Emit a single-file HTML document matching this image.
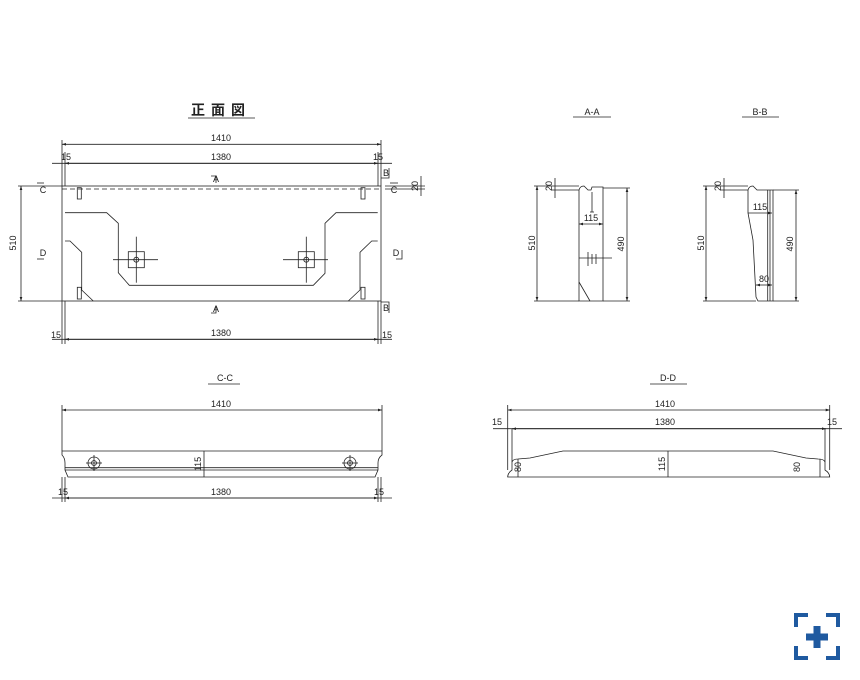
<!DOCTYPE html>
<html><head><meta charset="utf-8"><style>
html,body{margin:0;padding:0;background:#fff}
svg{display:block}
text{font-family:"Liberation Sans Narrow","Liberation Sans",sans-serif;font-size:9px;fill:#222}
</style></head><body>
<svg width="860" height="680" viewBox="0 0 860 680" xmlns="http://www.w3.org/2000/svg">
<defs>
<marker id="a" viewBox="0 0 6 6" refX="6" refY="3" markerWidth="5" markerHeight="5" orient="auto-start-reverse"><path d="M0,1 L6,3 L0,5z" fill="#222"/></marker>
</defs>
<g stroke="#222" stroke-width="0.8" fill="none">
<!-- FRONT VIEW -->
<rect x="62" y="186" width="319" height="115"/>
<line x1="62" y1="189" x2="381" y2="189" stroke-dasharray="5,3"/>
<rect x="77.3" y="187.7" width="4" height="11.3"/>
<rect x="361" y="187.7" width="4" height="11.3"/>
<rect x="77.3" y="287.3" width="4" height="11.7"/>
<rect x="361" y="287.3" width="4" height="11.7"/>
<path d="M65,212.7 L106.7,212.7 L118.3,223.3 L118.3,272.7 L129.3,285.3 L313.3,285.3 L325,273.3 L325,223.3 L336,212.7 L377.7,212.7"/>
<path d="M65,241 L70,241 L81.7,252.3 L81.7,290 L93.3,301"/>
<path d="M377.7,241 L371.7,241 L360,252.3 L360,290 L348.3,301"/>
<rect x="128.3" y="251.7" width="16" height="16"/>
<rect x="298.3" y="251.7" width="16" height="16"/>
<line x1="113" y1="259.7" x2="158" y2="259.7"/><line x1="136.3" y1="236.7" x2="136.3" y2="282.7"/>
<line x1="283" y1="259.7" x2="328" y2="259.7"/><line x1="306.3" y1="236.7" x2="306.3" y2="282.7"/>
<circle cx="136.3" cy="259.7" r="2.5"/><circle cx="306.3" cy="259.7" r="2.5"/>
<!-- front dims -->
<line x1="62" y1="144.3" x2="381" y2="144.3" marker-start="url(#a)" marker-end="url(#a)"/>
<line x1="52" y1="163.3" x2="392" y2="163.3"/>
<line x1="65" y1="163.3" x2="378" y2="163.3" marker-start="url(#a)" marker-end="url(#a)"/>
<line x1="62" y1="140" x2="62" y2="186"/><line x1="65" y1="152" x2="65" y2="186"/>
<line x1="381" y1="140" x2="381" y2="186"/><line x1="378" y1="152" x2="378" y2="186"/>
<line x1="52" y1="339.3" x2="392" y2="339.3"/>
<line x1="65" y1="339.3" x2="378" y2="339.3" marker-start="url(#a)" marker-end="url(#a)"/>
<line x1="62" y1="301" x2="62" y2="344"/><line x1="65" y1="301" x2="65" y2="344"/>
<line x1="381" y1="301" x2="381" y2="344"/><line x1="378" y1="301" x2="378" y2="344"/>
<line x1="18" y1="186" x2="62" y2="186"/><line x1="18" y1="301" x2="62" y2="301"/>
<line x1="21" y1="186" x2="21" y2="301" marker-start="url(#a)" marker-end="url(#a)"/>
<line x1="385" y1="186" x2="425" y2="186"/><line x1="385" y1="189" x2="425" y2="189"/>
<line x1="421" y1="176" x2="421" y2="196"/>
<!-- section markers -->
<path d="M211,176 L216,176 L216,183"/><path d="M211,313 L216,313 L216,306"/>
<path d="M37,183 L44,183"/><path d="M390,183 L398,183"/>
<path d="M381,178 L389,178 L389,168"/><path d="M381,302 L389,302 L389,313"/>
<path d="M37,259 L44,259"/><path d="M402,250 L402,259 L396,259"/>
<line x1="188" y1="118" x2="255" y2="118"/>
<!-- A-A -->
<line x1="573" y1="117" x2="611" y2="117"/>
<path d="M579,301 L579,282 L579,190 Q580,186 584,186 L588,190 L591,190 L592,187 L603,187 L603,301 Z"/>
<line x1="579" y1="282" x2="590" y2="301"/>
<line x1="579" y1="224" x2="603" y2="224" marker-start="url(#a)" marker-end="url(#a)"/>
<line x1="592" y1="192" x2="592" y2="212"/><line x1="590" y1="212" x2="594" y2="212"/>
<line x1="579" y1="258" x2="612" y2="258"/><line x1="588" y1="252" x2="588" y2="266"/><line x1="592" y1="254" x2="592" y2="264"/><line x1="596" y1="254" x2="596" y2="264"/>
<line x1="534" y1="186" x2="579" y2="186"/><line x1="534" y1="301" x2="579" y2="301"/>
<line x1="537" y1="186" x2="537" y2="301" marker-start="url(#a)" marker-end="url(#a)"/>
<line x1="555" y1="178" x2="555" y2="198"/><line x1="551" y1="190" x2="579" y2="190"/>
<line x1="603" y1="188" x2="630" y2="188"/><line x1="603" y1="301" x2="630" y2="301"/>
<line x1="627" y1="188" x2="627" y2="301" marker-start="url(#a)" marker-end="url(#a)"/>
<!-- B-B -->
<line x1="742" y1="117" x2="779" y2="117"/>
<path d="M748,213 L748,190 Q749,186 753,186 L757,190 L773,190 L773,301 L758,301 L756,297 L753,240 Z"/>
<line x1="767.7" y1="190" x2="767.7" y2="301"/><line x1="770" y1="190" x2="770" y2="301"/>
<line x1="748" y1="213" x2="772" y2="213" marker-end="url(#a)"/>
<line x1="756" y1="285" x2="772" y2="285" marker-start="url(#a)" marker-end="url(#a)"/>
<line x1="703" y1="186" x2="748" y2="186"/><line x1="703" y1="301" x2="756" y2="301"/>
<line x1="706" y1="186" x2="706" y2="301" marker-start="url(#a)" marker-end="url(#a)"/>
<line x1="724" y1="178" x2="724" y2="198"/><line x1="720" y1="190" x2="748" y2="190"/>
<line x1="773" y1="190" x2="799" y2="190"/><line x1="773" y1="301" x2="799" y2="301"/>
<line x1="796" y1="190" x2="796" y2="301" marker-start="url(#a)" marker-end="url(#a)"/>
<!-- C-C -->
<line x1="208" y1="384" x2="240" y2="384"/>
<line x1="62" y1="405" x2="62" y2="451"/><line x1="382" y1="405" x2="382" y2="451"/>
<line x1="62" y1="410" x2="382" y2="410" marker-start="url(#a)" marker-end="url(#a)"/>
<path d="M62,451 L382,451 L382,455 Q378,458 378,463 L378,470 L375,477 L68,477 L65,470 L65,463 Q65,458 62,455 Z"/>
<line x1="65" y1="467.7" x2="378" y2="467.7"/><line x1="65" y1="470" x2="378" y2="470"/>
<line x1="204" y1="451" x2="204" y2="477"/>
<circle cx="94" cy="463" r="6"/><circle cx="94" cy="463" r="2.5"/>
<circle cx="350" cy="463" r="6"/><circle cx="350" cy="463" r="2.5"/>
<line x1="86" y1="463" x2="102" y2="463"/><line x1="94" y1="455" x2="94" y2="471"/>
<line x1="342" y1="463" x2="358" y2="463"/><line x1="350" y1="455" x2="350" y2="471"/>
<line x1="65" y1="477" x2="65" y2="502"/><line x1="62" y1="477" x2="62" y2="502"/>
<line x1="378" y1="477" x2="378" y2="502"/><line x1="381" y1="477" x2="381" y2="502"/>
<line x1="52" y1="498" x2="392" y2="498"/>
<line x1="65" y1="498" x2="378" y2="498" marker-start="url(#a)" marker-end="url(#a)"/>
<!-- D-D -->
<line x1="650" y1="384" x2="687" y2="384"/>
<line x1="507.7" y1="405" x2="507.7" y2="470"/><line x1="829.7" y1="405" x2="829.7" y2="470"/>
<line x1="507.7" y1="410" x2="829.7" y2="410" marker-start="url(#a)" marker-end="url(#a)"/>
<line x1="493" y1="428.7" x2="842" y2="428.7"/>
<line x1="512" y1="428.7" x2="826" y2="428.7" marker-start="url(#a)" marker-end="url(#a)"/>
<path d="M512,429 L512,470 Q507.7,473 507.7,477 L829.7,477 Q829.7,473 825,470 L825,429"/>
<path d="M512,462 Q513,459 518,459 L530,458 L563,451 L773,451 L806,458 L818,459 Q824,459 825,462"/>
<line x1="518" y1="459" x2="518" y2="477"/><line x1="820" y1="459" x2="820" y2="477"/>
<line x1="668" y1="451" x2="668" y2="477"/>
</g>
<!-- Texts -->
<text x="221" y="115" text-anchor="middle" style="font-family:'Liberation Sans','Noto Sans CJK JP',sans-serif;font-size:14px;font-weight:bold;letter-spacing:6px">正面図</text>
<text x="221" y="141" text-anchor="middle">1410</text>
<text x="221" y="160" text-anchor="middle">1380</text>
<text x="66" y="160" text-anchor="middle">15</text><text x="378" y="160" text-anchor="middle">15</text>
<text x="221" y="336" text-anchor="middle">1380</text>
<text x="56" y="338" text-anchor="middle">15</text><text x="387" y="338" text-anchor="middle">15</text>
<text transform="translate(16,243) rotate(-90)" text-anchor="middle">510</text>
<text transform="translate(418,186) rotate(-90)" text-anchor="middle">20</text>
<text x="216" y="182" text-anchor="middle">A</text><text x="216" y="312" text-anchor="middle">A</text>
<text x="43" y="193" text-anchor="middle">C</text><text x="394" y="193" text-anchor="middle">C</text>
<text x="43" y="256" text-anchor="middle">D</text><text x="396" y="256" text-anchor="middle">D</text>
<text x="386" y="176" text-anchor="middle">B</text><text x="386" y="311" text-anchor="middle">B</text>
<text x="592" y="115" text-anchor="middle">A-A</text>
<text x="760" y="115" text-anchor="middle">B-B</text>
<text x="591" y="221" text-anchor="middle">115</text>
<text transform="translate(535,243) rotate(-90)" text-anchor="middle">510</text>
<text transform="translate(552,186) rotate(-90)" text-anchor="middle">20</text>
<text transform="translate(624,244) rotate(-90)" text-anchor="middle">490</text>
<text x="760" y="210" text-anchor="middle">115</text>
<text x="764" y="282" text-anchor="middle">80</text>
<text transform="translate(704,243) rotate(-90)" text-anchor="middle">510</text>
<text transform="translate(721,186) rotate(-90)" text-anchor="middle">20</text>
<text transform="translate(793,244) rotate(-90)" text-anchor="middle">490</text>
<text x="225" y="381" text-anchor="middle">C-C</text>
<text x="221" y="407" text-anchor="middle">1410</text>
<text transform="translate(201,464) rotate(-90)" text-anchor="middle">115</text>
<text x="221" y="495" text-anchor="middle">1380</text>
<text x="63" y="495" text-anchor="middle">15</text><text x="379" y="495" text-anchor="middle">15</text>
<text x="668" y="381" text-anchor="middle">D-D</text>
<text x="665" y="407" text-anchor="middle">1410</text>
<text x="665" y="425" text-anchor="middle">1380</text>
<text x="497" y="425" text-anchor="middle">15</text><text x="832" y="425" text-anchor="middle">15</text>
<text transform="translate(521,467) rotate(-90)" text-anchor="middle">80</text>
<text transform="translate(665,464) rotate(-90)" text-anchor="middle">115</text>
<text transform="translate(800,467) rotate(-90)" text-anchor="middle">80</text>
<!-- logo -->
<g fill="#1f5aa0">
<path d="M794,613h14v4h-10v10h-4z"/>
<path d="M840,613h-14v4h10v10h4z"/>
<path d="M794,660h14v-4h-10v-10h-4z"/>
<path d="M840,660h-14v-4h10v-10h4z"/>
<rect x="806" y="633.5" width="22" height="7"/>
<rect x="813.5" y="626" width="7" height="22"/>
</g>
</svg>
</body></html>
